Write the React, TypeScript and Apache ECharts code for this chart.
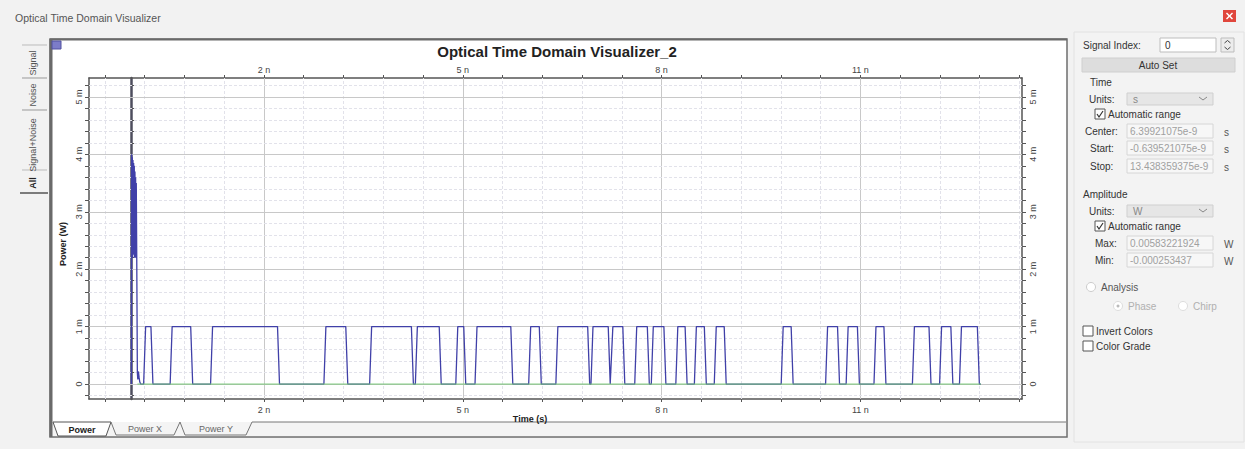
import React, { useEffect, useRef } from "react";
import * as echarts from "echarts";

// ---------- data ----------
const windowTitle = "Optical Time Domain Visualizer";
const chartTitle = "Optical Time Domain Visualizer_2";
const xAxisName = "Time (s)";
const yAxisName = "Power (W)";

const xLabelValuesNs = [2, 5, 8, 11];
const yLabelValuesMw = [0, 1, 2, 3, 4, 5];
const xMinNs = -0.6395;
const xMaxNs = 13.4384;
const yMinMw = -0.26;
const yMaxMw = 5.33;

// initial transient at t = 0 (ns, mW)
const transientTimeNs = [0, 0.004, 0.009, 0.014, 0.019, 0.024, 0.029, 0.034, 0.039, 0.044, 0.049, 0.054, 0.059, 0.064, 0.069, 0.074, 0.081, 0.09, 0.097, 0.106, 0.116, 0.126, 0.14];
const transientPowerMw = [0, 4.0, 2.3, 3.95, 2.2, 3.9, 2.25, 3.85, 2.3, 3.8, 2.2, 3.7, 2.25, 3.6, 2.2, 3.5, 2.2, 0.2, 0.08, 0.22, 0.12, 0.04, 0];

// NRZ pulses (ns)
const pulseStartNs = [0.2, 0.6, 1.21, 2.92, 3.61, 4.3, 4.91, 5.2, 6.01, 6.42, 6.95, 7.25, 7.61, 7.86, 8.23, 8.51, 8.81, 9.82, 10.49, 10.8, 11.22, 11.8, 12.21, 12.51];
const pulseEndNs = [0.31, 0.91, 2.22, 3.25, 4.24, 4.66, 5.03, 5.74, 6.17, 6.9, 7.21, 7.43, 7.8, 8.05, 8.37, 8.66, 8.96, 9.97, 10.67, 10.97, 11.37, 12.05, 12.38, 12.78];
const pulseHighMw = 1.0;
const signalEndNs = 12.82;
const noiseStartNs = 0.09;
const noiseEndNs = 12.82;
const noiseLevelMw = 0;

// panel values
const panelCenter = "6.39921075e-9";
const panelStart = "-0.639521075e-9";
const panelStop = "13.438359375e-9";
const panelMax = "0.00583221924";
const panelMin = "-0.000253437";

// ---------- helpers ----------
const FONT = "Liberation Sans";

function gridValues(from: number, to: number, step: number): number[] {
  const out: number[] = [];
  for (let i = 0; ; i++) {
    const v = Math.round((from + i * step) * 1000) / 1000;
    if (v > to + 1e-6) break;
    out.push(v);
  }
  return out;
}

const xGrid = gridValues(-0.4, 13.4, 0.6);
const yGrid = gridValues(-0.2, 5.2, 0.2);

function buildSignal(): number[][] {
  const edge = 0.015;
  const d: number[][] = transientTimeNs.map((t, i) => [t, transientPowerMw[i]]);
  pulseStartNs.forEach((s, i) => {
    const e = pulseEndNs[i];
    d.push([s - edge, 0], [s + edge, pulseHighMw], [e - edge, pulseHighMw], [e + edge, 0]);
  });
  d.push([signalEndNs, 0]);
  return d;
}

function t(x: number, y: number, text: string, o: any = {}) {
  return {
    type: "text",
    x,
    y,
    silent: true,
    rotation: o.rotation || 0,
    z: 10,
    style: {
      text,
      fontSize: o.size || 10,
      fontFamily: FONT,
      fontWeight: o.bold ? "bold" : "normal",
      fill: o.color || "#333",
      align: o.align || "left",
      verticalAlign: "middle",
      width: o.width,
      overflow: o.width ? "truncate" : undefined,
      ellipsis: "",
    },
  };
}

function r(x: number, y: number, w: number, h: number, fill: string, stroke?: string, lw = 1, z = 1) {
  return {
    type: "rect",
    silent: true,
    z,
    shape: { x, y, width: w, height: h },
    style: { fill, stroke: stroke || "none", lineWidth: lw },
  };
}

function ln(x1: number, y1: number, x2: number, y2: number, stroke: string, lw = 1, z = 5) {
  return { type: "line", silent: true, z, shape: { x1, y1, x2, y2 }, style: { stroke, lineWidth: lw } };
}

function pl(points: number[][], stroke: string, lw = 1, z = 5) {
  return { type: "polyline", silent: true, z, shape: { points }, style: { stroke, lineWidth: lw, fill: "none" } };
}

function checkbox(x: number, y: number, checked: boolean, label: string) {
  const els: any[] = [r(x, y - 5, 10, 10, "#fff", "#555", 1, 6)];
  if (checked) els.push(pl([[x + 2, y], [x + 4, y + 3], [x + 8, y - 3]], "#333", 1.2, 7));
  els.push(t(x + 13, y, label));
  return els;
}

function field(x: number, y: number, w: number, value: string, unit?: string) {
  const els: any[] = [r(x, y - 7, w, 14, "#f7f7f7", "#d6d6d6", 1, 6), t(x + 3, y, value, { color: "#a0a0a0", width: w - 5 })];
  if (unit) els.push(t(x + w + 11, y + 1, unit, { color: "#555" }));
  return els;
}

function dropdown(x: number, y: number, w: number, value: string) {
  return [
    r(x, y - 6, w, 12, "#e6e6e6", "#cfcfcf", 1, 6),
    t(x + 6, y, value, { color: "#888" }),
    pl([[x + w - 14, y - 2], [x + w - 10, y + 1], [x + w - 6, y - 2]], "#888", 1, 7),
  ];
}

function buildGraphics(): any[] {
  const g: any[] = [];
  // window title & close
  g.push(t(15, 18, windowTitle, { size: 10.5, color: "#555" }));
  g.push(r(1223, 10, 13, 12, "#e0463c", undefined, 1, 6));
  g.push(ln(1226.5, 13, 1232.5, 19, "#fff", 1.5, 7), ln(1232.5, 13, 1226.5, 19, "#fff", 1.5, 7));

  // left vertical tabs
  g.push(ln(22, 45, 47, 45, "#bbb", 1));
  g.push(ln(22, 78, 47, 78, "#999", 1));
  g.push(ln(22, 110, 47, 110, "#999", 1));
  g.push(ln(22, 170, 47, 170, "#bbb", 1));
  g.push(ln(20, 193, 48, 193, "#555", 1.5));
  g.push(t(33, 63, "Signal", { size: 9, color: "#555", align: "center", rotation: Math.PI / 2 }));
  g.push(t(33, 95, "Noise", { size: 9, color: "#555", align: "center", rotation: Math.PI / 2 }));
  g.push(t(33, 145, "Signal+Noise", { size: 9, color: "#555", align: "center", rotation: Math.PI / 2 }));
  g.push(t(33, 183, "All", { size: 9, bold: true, color: "#222", align: "center", rotation: Math.PI / 2 }));

  // graph frame
  g.push({ ...r(50, 39, 1017, 398, "#ffffff", "#6e6e6e", 1.5, -5) });
  g.push(ln(51, 39, 51, 437, "#6a6a6a", 3, 6));
  g.push(ln(50, 39.5, 1067, 39.5, "#6a6a6a", 2, 6));
  g.push(r(52, 41, 9, 8, "#7c7cc8", "#5050a0", 1, 6));
  // bottom tabs strip
  g.push(r(52, 422, 1014, 14, "#f4f4f4", undefined, 1, -4));
  g.push(ln(252, 422, 1066, 422, "#777", 1));
  g.push({ type: "polygon", silent: true, z: 5, shape: { points: [[53, 422], [58, 436], [106, 436], [111, 422]] }, style: { fill: "#fff", stroke: "#555", lineWidth: 1 } });
  g.push(pl([[111, 422], [116, 435], [174, 435], [180, 422]], "#777", 1));
  g.push(pl([[180, 422], [185, 435], [246, 435], [252, 422]], "#777", 1));
  g.push(t(82, 430, "Power", { size: 9, bold: true, color: "#222", align: "center" }));
  g.push(t(145, 429, "Power X", { size: 9, color: "#666", align: "center" }));
  g.push(t(216, 429, "Power Y", { size: 9, color: "#666", align: "center" }));

  // chart title and axis names
  g.push(t(557, 51, chartTitle, { size: 15, bold: true, color: "#222", align: "center" }));
  g.push(t(530, 419, xAxisName, { size: 9, bold: true, color: "#222", align: "center" }));
  g.push(t(63, 244, yAxisName, { size: 9, bold: true, color: "#222", align: "center", rotation: Math.PI / 2 }));

  // right panel
  g.push(r(1074, 32, 170, 410, "#f3f3f3", "#e2e2e2", 1, -5));
  g.push(t(1083, 45, "Signal Index:"));
  g.push(r(1160, 38, 56, 14, "#fff", "#bdbdbd", 1, 6));
  g.push(t(1165, 45, "0"));
  g.push(r(1221, 38, 13, 14, "#ececec", "#bdbdbd", 1, 6));
  g.push(pl([[1224.5, 43], [1227.5, 40.5], [1230.5, 43]], "#444", 1, 7));
  g.push(pl([[1224.5, 47], [1227.5, 49.5], [1230.5, 47]], "#444", 1, 7));
  g.push(r(1082, 58, 153, 14, "#dddddd", "#cfcfcf", 1, 6));
  g.push(t(1158, 65, "Auto Set", { align: "center" }));

  g.push(t(1090, 82, "Time"));
  g.push(t(1089, 99, "Units:"));
  g.push(...dropdown(1127, 99, 86, "s"));
  g.push(...checkbox(1095, 114, true, "Automatic range"));
  g.push(t(1085, 131, "Center:"));
  g.push(...field(1127, 131, 86, panelCenter, "s"));
  g.push(t(1090, 148, "Start:"));
  g.push(...field(1127, 148, 86, panelStart, "s"));
  g.push(t(1090, 166, "Stop:"));
  g.push(...field(1127, 166, 86, panelStop, "s"));

  g.push(t(1083, 194, "Amplitude"));
  g.push(t(1089, 211, "Units:"));
  g.push(...dropdown(1127, 211, 86, "W"));
  g.push(...checkbox(1095, 226, true, "Automatic range"));
  g.push(t(1095, 243, "Max:"));
  g.push(...field(1127, 243, 86, panelMax, "W"));
  g.push(t(1095, 260, "Min:"));
  g.push(...field(1127, 260, 86, panelMin, "W"));

  g.push({ type: "circle", silent: true, z: 6, shape: { cx: 1091, cy: 287, r: 4.5 }, style: { fill: "#fff", stroke: "#ccc" } });
  g.push(t(1101, 287, "Analysis", { color: "#555" }));
  g.push({ type: "circle", silent: true, z: 6, shape: { cx: 1118, cy: 306, r: 4.5 }, style: { fill: "#fff", stroke: "#ddd" } });
  g.push({ type: "circle", silent: true, z: 7, shape: { cx: 1118, cy: 306, r: 1.5 }, style: { fill: "#bbb" } });
  g.push(t(1128, 306, "Phase", { color: "#b0b0b0" }));
  g.push({ type: "circle", silent: true, z: 6, shape: { cx: 1183, cy: 306, r: 4.5 }, style: { fill: "#fff", stroke: "#ddd" } });
  g.push(t(1193, 306, "Chirp", { color: "#b0b0b0" }));

  g.push(...checkbox(1083, 331, false, "Invert Colors"));
  g.push(...checkbox(1083, 346, false, "Color Grade"));
  return g;
}

function buildOption(): any {
  const minorGrid = { color: "#e2e2ea", width: 1, type: [3, 2] };
  const majorGrid = { color: "#c8c8c8", width: 1, type: "solid" };
  const gridLines = [
    ...xGrid.map((v) => ({ xAxis: v, lineStyle: xLabelValuesNs.includes(v) ? majorGrid : minorGrid })),
    ...yGrid.map((v) => ({ yAxis: v, lineStyle: Number.isInteger(v) ? majorGrid : minorGrid })),
  ];
  const axisLabelStyle = { fontSize: 9, fontFamily: FONT, color: "#444" };
  const xBase = (pos: string) => ({
    type: "value",
    position: pos,
    min: xMinNs,
    max: xMaxNs,
    axisLine: { onZero: false, lineStyle: { color: "#555", width: 1.5 } },
    axisTick: { show: true, customValues: xGrid, length: 3, lineStyle: { color: "#555" } },
    axisLabel: { ...axisLabelStyle, customValues: xLabelValuesNs, margin: pos === "top" ? 4 : 6, formatter: (v: number) => `${v} n` },
    splitLine: { show: false },
  });
  const yBase = (pos: string) => ({
    type: "value",
    position: pos,
    min: yMinMw,
    max: yMaxMw,
    axisLine: { onZero: false, lineStyle: { color: "#555", width: 1.5 } },
    axisTick: { show: true, customValues: yGrid, length: 4, lineStyle: { color: "#555" } },
    axisLabel: {
      ...axisLabelStyle,
      rotate: 90,
      customValues: yLabelValuesMw,
      margin: 6,
      formatter: (v: number) => (v === 0 ? "0" : `${v} m`),
    },
    splitLine: { show: false },
  });
  return {
    animation: false,
    backgroundColor: "#f2f2f2",
    grid: { left: 89, top: 78, width: 933, height: 321, containLabel: false },
    xAxis: [
      xBase("bottom"),
      xBase("top"),
      {
        type: "value",
        min: xMinNs,
        max: xMaxNs,
        axisLine: { onZero: true, onZeroAxisIndex: 0, lineStyle: { color: "#5a5a5a", width: 1 } },
        axisTick: { show: false },
        axisLabel: { show: false },
        splitLine: { show: false },
      },
    ],
    yAxis: [
      yBase("left"),
      yBase("right"),
      {
        type: "value",
        min: yMinMw,
        max: yMaxMw,
        axisLine: { onZero: true, onZeroAxisIndex: 0, lineStyle: { color: "#4e4e5e", width: 2.5 } },
        axisTick: { show: true, customValues: yGrid, length: 3, lineStyle: { color: "#555" } },
        axisLabel: { show: false },
        splitLine: { show: false },
      },
    ],
    graphic: { elements: buildGraphics() },
    series: [
      {
        type: "line",
        data: [],
        silent: true,
        z: 1,
        markLine: { silent: true, z: 1, symbol: "none", animation: false, label: { show: false }, data: gridLines },
      },
      {
        name: "Signal",
        type: "line",
        data: buildSignal(),
        showSymbol: false,
        symbol: "none",
        z: 6,
        lineStyle: { color: "#4040a8", width: 1.3 },
      },
      {
        name: "Noise",
        type: "line",
        data: [[noiseStartNs, noiseLevelMw], [noiseEndNs, noiseLevelMw]],
        showSymbol: false,
        symbol: "none",
        z: 7,
        lineStyle: { color: "#78c878", width: 1 },
      },
    ],
  };
}

export default function App() {
  const ref = useRef<HTMLDivElement>(null);
  useEffect(() => {
    if (!ref.current) return;
    const chart = echarts.init(ref.current, undefined, { renderer: "svg" });
    chart.setOption(buildOption());
    return () => chart.dispose();
  }, []);
  return <div ref={ref} style={{ position: "fixed", left: 0, top: 0, width: 1245, height: 449 }} />;
}
